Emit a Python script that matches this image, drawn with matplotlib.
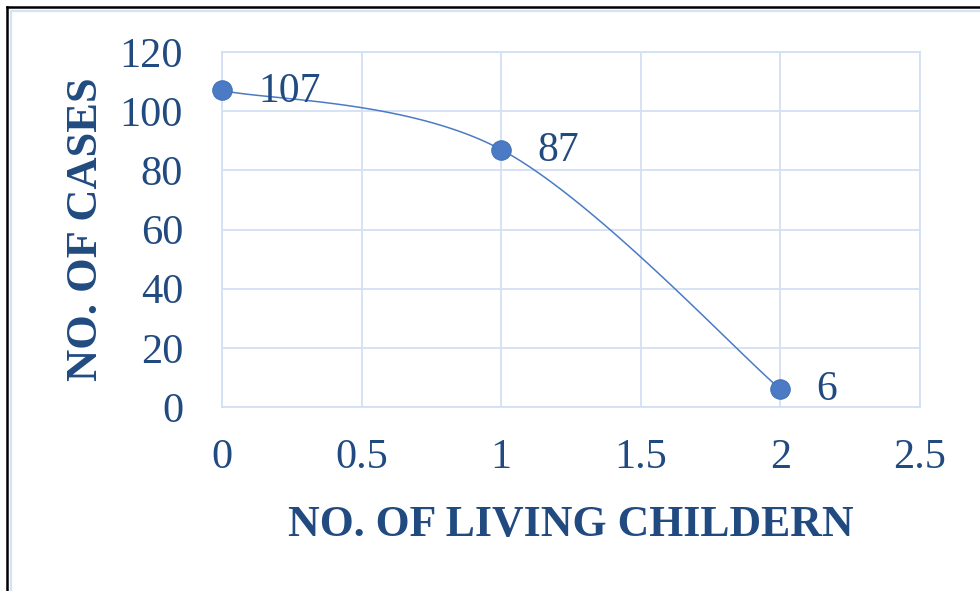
import numpy as np
import matplotlib
matplotlib.use("Agg")
import matplotlib.pyplot as plt
from matplotlib.lines import Line2D

living_children = [0, 1, 2]
cases = [107, 87, 6]
x_ticks = [0, 0.5, 1, 1.5, 2, 2.5]
y_ticks = [0, 20, 40, 60, 80, 100, 120]

TEXT = "#214a80"
GRID = "#d3e0f3"
SERIES = "#4a7bc4"
SERIF = ["Liberation Serif", "DejaVu Serif"]


def smooth_curve(xs, ys, n=60):
    """Cardinal (Catmull-Rom style) Bezier smoothing through the points."""
    pts = np.column_stack([xs, ys]).astype(float)
    out = []
    for i in range(len(pts) - 1):
        p0 = pts[max(i - 1, 0)]
        p1 = pts[i]
        p2 = pts[i + 1]
        p3 = pts[min(i + 2, len(pts) - 1)]
        c1 = p1 + (p2 - p0) / 6.0
        c2 = p2 - (p3 - p1) / 6.0
        t = np.linspace(0, 1, n)[:, None]
        seg = ((1 - t) ** 3) * p1 + 3 * ((1 - t) ** 2) * t * c1 \
            + 3 * (1 - t) * t ** 2 * c2 + t ** 3 * p2
        out.append(seg if i == 0 else seg[1:])
    seg = np.vstack(out)
    return seg[:, 0], seg[:, 1]


fig = plt.figure(figsize=(9.8, 5.91), dpi=100)
ax = fig.add_axes([222 / 980, 1 - 407 / 591, 698 / 980, 355 / 591])

sx, sy = smooth_curve(living_children, cases)
ax.plot(sx, sy, color=SERIES, lw=1.1, zorder=3, clip_on=False)
ax.plot(living_children, cases, "o", color=SERIES, ms=14,
        markeredgecolor="#4272b8", markeredgewidth=0.8, zorder=4, clip_on=False)

for xv, yv in zip(living_children, cases):
    ax.annotate(str(yv), (xv, yv), xytext=(36, -1), textcoords="offset pixels",
                ha="left", va="center", fontsize=30, color=TEXT, family=SERIF,
                zorder=5)

ax.set_xlim(0, 2.5)
ax.set_ylim(0, 120)
ax.set_xticks(x_ticks)
ax.set_yticks(y_ticks)
ax.set_xticklabels([f"{v:g}" for v in x_ticks])
ax.set_yticklabels([str(v) for v in y_ticks])
ax.tick_params(axis="both", length=0, labelsize=30.5, labelcolor=TEXT)
ax.tick_params(axis="x", pad=23)
ax.tick_params(axis="y", pad=28)
for lab in ax.get_xticklabels() + ax.get_yticklabels():
    lab.set_family(SERIF)

ax.grid(True, color=GRID, lw=1.3)
ax.set_axisbelow(True)
for side in ["left", "bottom", "right", "top"]:
    ax.spines[side].set_color(GRID)
    ax.spines[side].set_linewidth(1.3)

ax.set_xlabel("NO. OF LIVING CHILDERN", fontsize=31.5, fontweight="bold",
              color=TEXT, family=SERIF, labelpad=20)
ax.set_ylabel("NO. OF CASES", fontsize=32, fontweight="bold",
              color=TEXT, family=SERIF, labelpad=10)

# frame lines around the chart area
fig.add_artist(Line2D([7 / 980, 1], [1 - 7 / 591] * 2, color="black", lw=1.8,
                      transform=fig.transFigure))
fig.add_artist(Line2D([7 / 980] * 2, [0, 1 - 7 / 591], color="black", lw=1.8,
                      transform=fig.transFigure))
fig.add_artist(Line2D([10.5 / 980, 1], [1 - 10.5 / 591] * 2, color="#d6e3f4",
                      lw=1.6, transform=fig.transFigure))
fig.add_artist(Line2D([10.5 / 980] * 2, [0, 1 - 10.5 / 591], color="#d6e3f4",
                      lw=1.6, transform=fig.transFigure))

fig.savefig("out.png", dpi=100)
